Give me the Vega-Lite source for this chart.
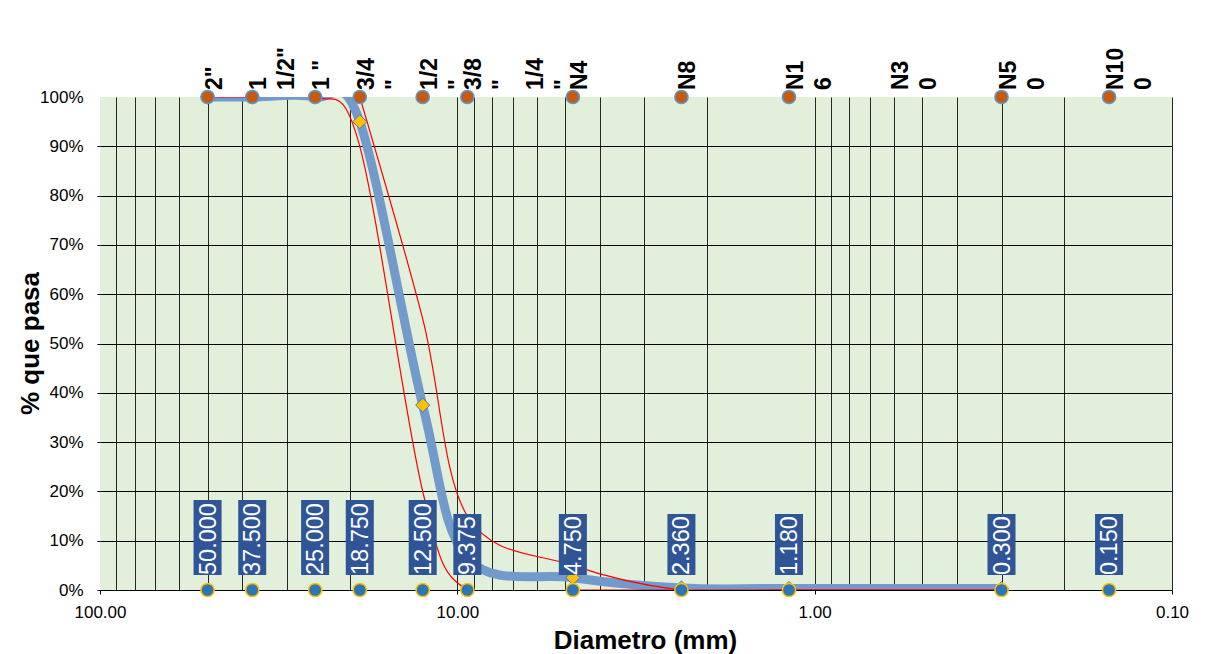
{
  "$schema": "https://vega.github.io/schema/vega-lite/v6.json",
  "width": 1072,
  "height": 493,
  "autosize": {"type": "none"},
  "padding": {"left": 100, "top": 97, "right": 48, "bottom": 64},
  "background": "white",
  "config": {
    "view": {"fill": "#E2EFDA", "stroke": null},
    "font": "Liberation Sans"
  },
  "datasets": {
    "curve": [
      {"d": 50, "serie": "Muestra", "p": 1.0},
      {"d": 37.5, "serie": "Muestra", "p": 1.0},
      {"d": 25, "serie": "Muestra", "p": 1.0},
      {"d": 18.75, "serie": "Muestra", "p": 0.95},
      {"d": 12.5, "serie": "Muestra", "p": 0.375},
      {"d": 9.375, "serie": "Muestra", "p": 0.065},
      {"d": 4.75, "serie": "Muestra", "p": 0.025},
      {"d": 2.36, "serie": "Muestra", "p": 0.004},
      {"d": 1.18, "serie": "Muestra", "p": 0.003},
      {"d": 0.3, "serie": "Muestra", "p": 0.003},
      {"d": 50, "serie": "Inferior", "p": 1.0},
      {"d": 37.5, "serie": "Inferior", "p": 1.0},
      {"d": 25, "serie": "Inferior", "p": 1.0},
      {"d": 18.75, "serie": "Inferior", "p": 0.9},
      {"d": 12.5, "serie": "Inferior", "p": 0.2},
      {"d": 9.375, "serie": "Inferior", "p": 0.0},
      {"d": 4.75, "serie": "Inferior", "p": 0.0},
      {"d": 2.36, "serie": "Inferior", "p": 0.0},
      {"d": 1.18, "serie": "Inferior", "p": 0.0},
      {"d": 0.3, "serie": "Inferior", "p": 0.0},
      {"d": 18.75, "serie": "Superior", "p": 1.0},
      {"d": 12.5, "serie": "Superior", "p": 0.55},
      {"d": 9.375, "serie": "Superior", "p": 0.15},
      {"d": 4.75, "serie": "Superior", "p": 0.05},
      {"d": 2.36, "serie": "Superior", "p": 0.0},
      {"d": 1.18, "serie": "Superior", "p": 0.0},
      {"d": 0.3, "serie": "Superior", "p": 0.0}
    ],
    "sieves": [
      {"d": 50, "name": "2\"", "lbl": "50.000"},
      {"d": 37.5, "name": "1\n1/2\"", "lbl": "37.500"},
      {"d": 25, "name": "1 \"", "lbl": "25.000"},
      {"d": 18.75, "name": "3/4\n\"", "lbl": "18.750"},
      {"d": 12.5, "name": "1/2\n\"", "lbl": "12.500"},
      {"d": 9.375, "name": "3/8\n\"", "lbl": "9.375"},
      {"d": 6.3, "name": "1/4\n\"", "lbl": null},
      {"d": 4.75, "name": "N4", "lbl": "4.750"},
      {"d": 2.36, "name": "N8", "lbl": "2.360"},
      {"d": 1.18, "name": "N1\n6", "lbl": "1.180"},
      {"d": 0.6, "name": "N3\n0", "lbl": null},
      {"d": 0.3, "name": "N5\n0", "lbl": "0.300"},
      {"d": 0.15, "name": "N10\n0", "lbl": "0.150"}
    ]
  },
  "layer": [
    {
      "data": {"name": "curve"},
      "transform": [{"filter": "datum.serie == 'Muestra'"}],
      "mark": {"type": "line", "interpolate": "cardinal", "strokeWidth": 9, "color": "#729BCB", "clip": true},
      "encoding": {
        "x": {
          "field": "d", "type": "quantitative",
          "scale": {"type": "log", "domain": [0.1, 100], "reverse": true, "nice": false},
          "axis": {
            "values": [100, 90, 80, 70, 60, 50, 40, 30, 20, 10, 9, 8, 7, 6, 5, 4, 3, 2, 1, 0.9, 0.8, 0.7, 0.6, 0.5, 0.4, 0.3, 0.2, 0.1],
            "labelExpr": "indexof([100,10,1,0.1], datum.value) >= 0 ? format(datum.value, '.2f') : ''",
            "labelOverlap": false, "labelFlush": false, "labelBound": false,
            "labelFont": "Liberation Sans", "labelFontSize": 17, "labelColor": "#000",
            "labelPadding": 10,
            "tickSize": 4, "tickColor": "#000",
            "tickOpacity": {"condition": {"test": "indexof([100,10,1,0.1], datum.value) >= 0", "value": 1}, "value": 0},
            "grid": true, "gridColor": "#111", "gridWidth": 1,
            "gridOpacity": {"condition": {"test": "datum.value == 100", "value": 0}, "value": 0.9},
            "domain": true, "domainColor": "#000", "domainWidth": 1,
            "title": "Diametro (mm)",
            "titleFont": "Liberation Sans", "titleFontSize": 26, "titleFontWeight": "bold", "titleColor": "#000",
            "titleBaseline": "top", "titleAlign": "center", "titleX": 545, "titleY": 37
          }
        },
        "y": {
          "field": "p", "type": "quantitative",
          "scale": {"domain": [0, 1], "nice": false},
          "axis": {
            "values": [0, 0.1, 0.2, 0.3, 0.4, 0.5, 0.6, 0.7, 0.8, 0.9, 1.0],
            "format": ".0%",
            "labelFont": "Liberation Sans", "labelFontSize": 17, "labelColor": "#000",
            "labelPadding": 14,
            "tickSize": 3, "tickColor": "#000",
            "tickOpacity": {"condition": {"test": "datum.value == 1", "value": 0}, "value": 1},
            "grid": true, "gridColor": "#000", "gridWidth": 1,
            "gridOpacity": {"condition": {"test": "datum.value == 1", "value": 0}, "value": 1},
            "domain": false,
            "title": "% que pasa",
            "titleFont": "Liberation Sans", "titleFontSize": 26, "titleFontWeight": "bold", "titleColor": "#000",
            "titleAngle": 270, "titleBaseline": "bottom", "titleAlign": "center", "titleX": -57, "titleY": 246
          }
        }
      }
    },
    {
      "data": {"name": "curve"},
      "transform": [{"filter": "datum.serie != 'Muestra'"}],
      "mark": {"type": "line", "interpolate": "cardinal", "strokeWidth": 1.2, "color": "#FF0000", "clip": true},
      "encoding": {
        "x": {"field": "d", "type": "quantitative"},
        "y": {"field": "p", "type": "quantitative"},
        "detail": {"field": "serie", "type": "nominal"}
      }
    },
    {
      "data": {"name": "curve"},
      "transform": [{"filter": "datum.serie == 'Muestra'"}],
      "mark": {"type": "point", "shape": "diamond", "filled": true, "size": 200, "fill": "#FFC000", "stroke": "#4472C4", "strokeWidth": 1, "opacity": 1},
      "encoding": {
        "x": {"field": "d", "type": "quantitative"},
        "y": {"field": "p", "type": "quantitative"}
      }
    },
    {
      "data": {"name": "sieves"},
      "transform": [{"filter": "isValid(datum.lbl)"}],
      "mark": {"type": "point", "shape": "circle", "filled": true, "size": 175, "fill": "#C55A11", "stroke": "#5B9BD5", "strokeWidth": 1.5, "opacity": 1},
      "encoding": {
        "x": {"field": "d", "type": "quantitative"},
        "y": {"datum": 1}
      }
    },
    {
      "data": {"name": "sieves"},
      "transform": [{"filter": "isValid(datum.lbl)"}],
      "mark": {"type": "point", "filled": true, "size": 1406.25, "fill": "#2F5597", "strokeWidth": 0, "opacity": 1},
      "encoding": {
        "x": {"field": "d", "type": "quantitative"},
        "y": {"datum": 0},
        "shape": {
          "condition": {"test": "length(datum.lbl) > 5", "value": "M-0.747,-0.8H0.747V-4.8H-0.747Z"},
          "value": "M-0.747,-0.8H0.747V-4.053H-0.747Z"
        }
      }
    },
    {
      "data": {"name": "sieves"},
      "transform": [{"filter": "isValid(datum.lbl)"}],
      "mark": {"type": "point", "shape": "circle", "filled": true, "size": 175, "fill": "#2E75B6", "stroke": "#FFC000", "strokeWidth": 1.5, "opacity": 1},
      "encoding": {
        "x": {"field": "d", "type": "quantitative"},
        "y": {"datum": 0}
      }
    },
    {
      "data": {"name": "sieves"},
      "transform": [{"filter": "isValid(datum.lbl)"}],
      "mark": {"type": "text", "angle": 270, "align": "left", "baseline": "middle", "dx": 15, "dy": 1, "font": "Liberation Sans", "fontSize": 23.5, "color": "#FFFFFF"},
      "encoding": {
        "x": {"field": "d", "type": "quantitative"},
        "y": {"datum": 0},
        "text": {"field": "lbl", "type": "nominal"}
      }
    },
    {
      "data": {"name": "sieves"},
      "mark": {"type": "text", "angle": 270, "align": "left", "baseline": "top", "dx": 7, "dy": -4, "font": "Liberation Sans", "fontSize": 23, "fontWeight": "bold", "color": "#000", "lineBreak": "\n", "lineHeight": 28},
      "encoding": {
        "x": {"field": "d", "type": "quantitative"},
        "y": {"datum": 1},
        "text": {"field": "name", "type": "nominal"}
      }
    }
  ]
}
